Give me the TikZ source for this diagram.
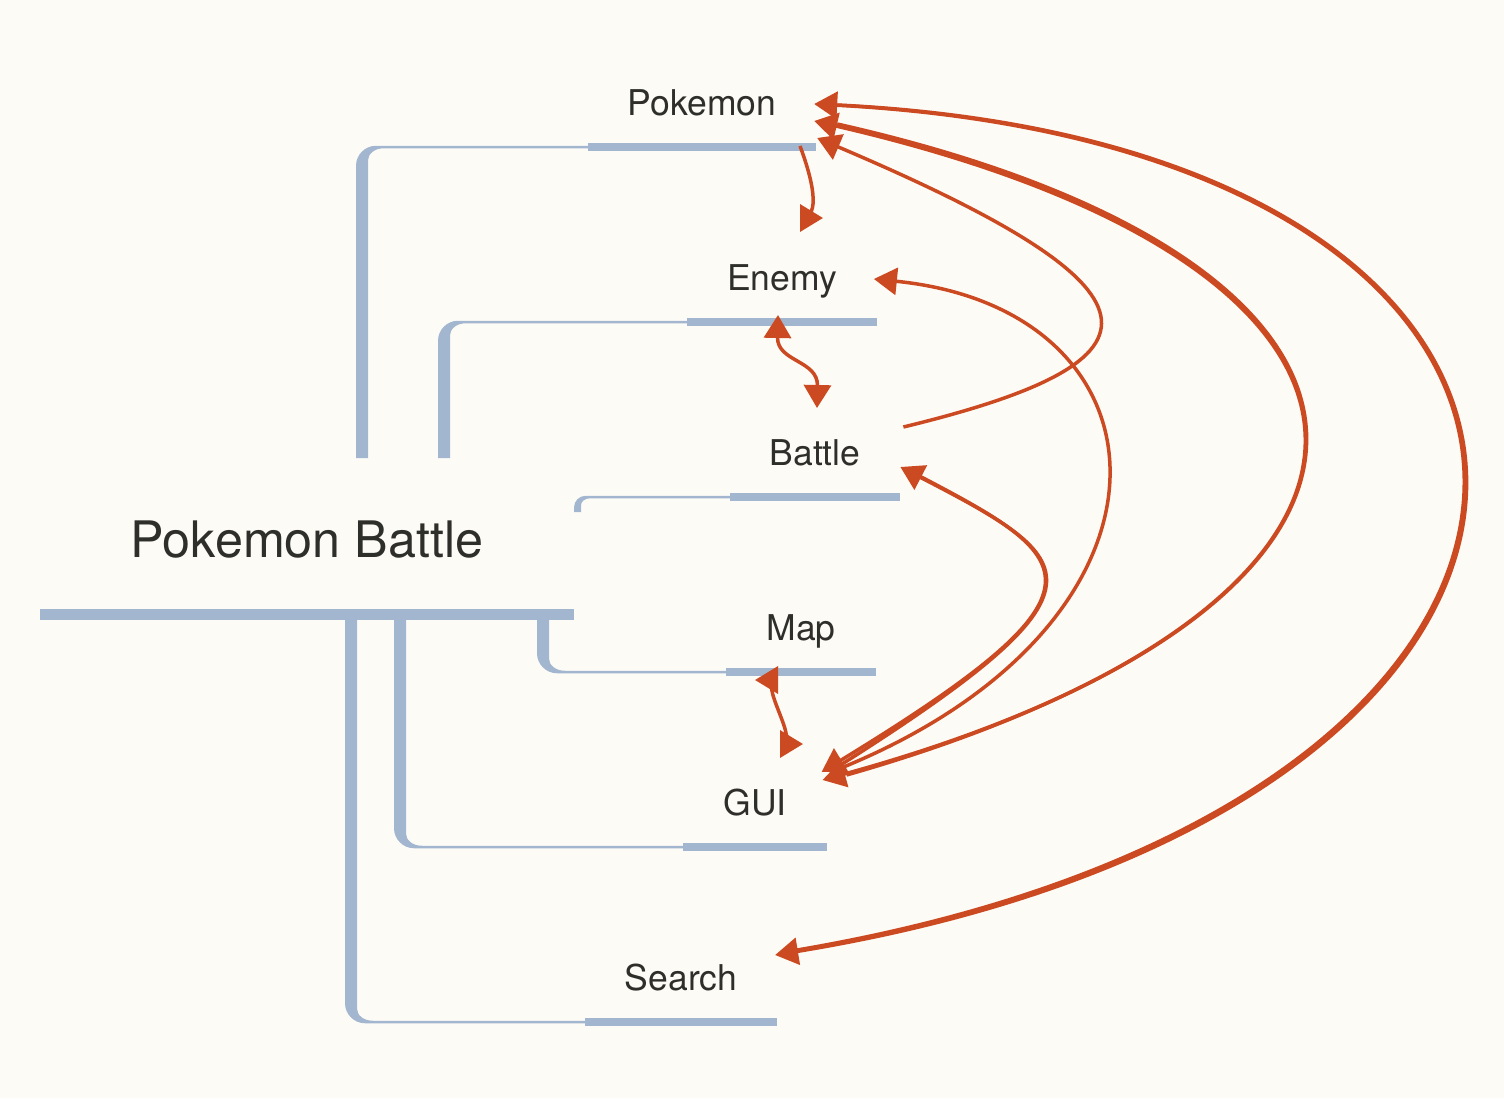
\documentclass[tikz,border=0pt]{standalone}
\usepackage{fontspec}
\setmainfont{TeX Gyre Heros}
\usetikzlibrary{arrows.meta,calc}

\definecolor{paper}{HTML}{FDFBF6}
\definecolor{twig}{HTML}{A3B6CF}
\definecolor{rel}{HTML}{CC4A22}
\definecolor{ink}{HTML}{2E2E2B}

\tikzset{
  topic/.style={font=\fontsize{17.75pt}{20pt}\selectfont, text=ink, anchor=base,
    text height=12.5pt, text depth=0pt, inner xsep=20pt, inner ysep=16pt, outer sep=0pt},
  rootlabel/.style={font=\fontsize{25.15pt}{28pt}\selectfont, text=ink, anchor=base,
    text height=18pt, text depth=0pt, inner xsep=45.25pt, inner ysep=28.75pt, outer sep=0pt},
  uline/.style={draw=twig, line width=4.25pt},
  rootline/.style={draw=twig, line width=5.5pt},
  branch/.style={fill=twig},
  >={Triangle[length=11.5pt,width=13.5pt]},
  relation/.style={draw=rel, line width=1.75pt, ->},
  mutual/.style={draw=rel, line width=1.75pt, <->},
}

% tapered branch going up from the root to a topic line
\newcommand{\upbranch}[5]{% outer x, start y, line y, topic node, width
  \pgfmathsetmacro\rr{1.67*#5}
  \pgfmathsetmacro\ya{#3-1.25}
  \pgfmathsetmacro\yb{#3+1.25}
  \fill[branch] ({#1},{#2}) -- ({#1},{\ya+\rr})
    .. controls ({#1},{\ya+0.45*\rr}) and ({#1+0.45*\rr},{\ya}) .. ({#1+\rr},{\ya})
    -- (#4.south |- 0,\ya) -- (#4.south |- 0,\yb)
    -- ({#1+#5+0.8*\rr},{\yb})
    .. controls ({#1+#5+0.3*\rr},{\yb}) and ({#1+#5},{\yb+0.3*\rr}) .. ({#1+#5},{\yb+0.6*\rr})
    -- ({#1+#5},{#2}) -- cycle;}

% tapered branch going down from the root line to a topic line
\newcommand{\downbranch}[5]{% outer x, start y, line y, topic node, width
  \pgfmathsetmacro\rr{1.67*#5}
  \pgfmathsetmacro\ya{#3+1.25}
  \pgfmathsetmacro\yb{#3-1.25}
  \fill[branch] ({#1},{#2}) -- ({#1},{\ya-\rr})
    .. controls ({#1},{\ya-0.45*\rr}) and ({#1+0.45*\rr},{\ya}) .. ({#1+\rr},{\ya})
    -- (#4.south |- 0,\ya) -- (#4.south |- 0,\yb)
    -- ({#1+#5+0.8*\rr},{\yb})
    .. controls ({#1+#5+0.3*\rr},{\yb}) and ({#1+#5},{\yb-0.3*\rr}) .. ({#1+#5},{\yb-0.6*\rr})
    -- ({#1+#5},{#2}) -- cycle;}

\begin{document}
\begin{tikzpicture}[x=0.5pt, y=-0.5pt]
  \useasboundingbox (0,0) rectangle (1504,1098);
  \fill[paper] (0,0) rectangle (1504,1098);
  % root and topics
  \node[rootlabel] (root) at (307,557) {Pokemon Battle};
  \node[topic] (pokemon) at (702,115) {Pokemon};
  \node[topic] (enemy) at (782,290) {Enemy};
  \node[topic] (battle) at (815,465) {Battle};
  \node[topic] (map) at (801,640) {Map};
  \node[topic] (gui) at (755,815) {GUI};
  \node[topic] (search) at (681,990) {Search};
  % branches
  \upbranch{356}{458}{147}{pokemon}{12}
  \upbranch{438}{458}{322}{enemy}{12}
  \upbranch{574}{512}{497}{battle}{7}
  \downbranch{537}{615}{672}{map}{12}
  \downbranch{394}{615}{847}{gui}{12}
  \downbranch{345}{615}{1022}{search}{12}
  \draw[rootline] (root.south west) -- (root.south east);
  \foreach \t in {pokemon,enemy,battle,map,gui,search}
    \draw[uline] (\t.south west) -- (\t.south east);
  % relations
  \draw[relation] ($(pokemon.south)+(98,-1)$) .. controls (812,178) and ($(enemy.north)+(40,-15)$) .. ($(enemy.north)+(41,-15)$);
  \draw[mutual] ($(enemy.south)+(-4,-7)$) .. controls (777,362) and (818,360) .. ($(battle.north)+(2,0)$);
  \draw[relation] ($(battle.north east)+(3,19)$) .. controls (1180,360) and (1175,290) .. ($(pokemon.south east)+(1,-9)$);
  \draw[relation] ($(gui.north east)+(17,9)$) .. controls (1200,620) and (1180,310) .. ($(enemy.east)+(-3,1.5)$);
  \draw[relation] ($(battle.east)+(20,24)$) .. controls (1080,560) and (1120,590) .. ($(gui.north east)+(-5,14)$);
  \draw[relation] ($(gui.north east)+(14,7)$) .. controls (1121,587) and (1082,561) .. ($(battle.east)+(0,14.5)$);
  \draw[relation] ($(gui.north east)+(20,17)$) .. controls (1460,600) and (1460,270) .. ($(pokemon.south east)+(-2,-26)$);
  \draw[relation] ($(pokemon.south east)+(21,-23)$) .. controls (1462,265) and (1462,604) .. ($(gui.north east)+(-4,22)$);
  \draw[relation] ($(search.north east)+(20,17)$) .. controls (1680,800) and (1680,150) .. ($(pokemon.south east)+(-2,-43)$);
  \draw[relation] ($(pokemon.south east)+(21,-42)$) .. controls (1682,146) and (1684,806) .. ($(search.north east)+(-2,22)$);
  \draw[mutual] ($(map.south)+(-46,8)$) .. controls ($(map.south)+(-45,8)$) and ($(gui.north)+(47,-14)$) .. ($(gui.north)+(48,-14)$);
\end{tikzpicture}
\end{document}
